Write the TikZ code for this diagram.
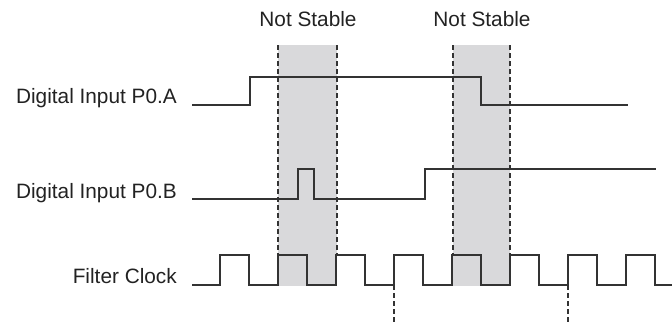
\documentclass[tikz,border=0pt]{standalone}
\usepackage{fontspec}
\setmainfont{Liberation Sans}
\definecolor{bandgray}{HTML}{D9D9DB}
\definecolor{wave}{HTML}{333333}
\definecolor{txt}{HTML}{222222}
\begin{document}
\begin{tikzpicture}[x=1pt,y=-1pt,
  lbl/.style={anchor=base east,inner sep=0pt,text=txt,font=\fontsize{20.8}{24}\selectfont},
  ttl/.style={anchor=base,inner sep=0pt,text=txt,font=\fontsize{20.8}{24}\selectfont},
  sig/.style={draw=wave,line width=1.3pt,line join=miter},
  band/.style={fill=bandgray,draw=none},
  guide/.style={draw=wave,line width=1.4pt,dash pattern=on 5pt off 3pt}]
\useasboundingbox (0,0) rectangle (672,324);
% shaded regions
\path[band] (278,45) rectangle (337,286);
\path[band] (453,45) rectangle (510,286);
% titles
\node[ttl] (ns1) at (308,27) {Not Stable};
\node[ttl] (ns2) at (482,27) {Not Stable};
% labels
\node[lbl] (la) at (177,103) {Digital Input P0.A};
\node[lbl] (lb) at (177,198) {Digital Input P0.B};
\node[lbl] (lc) at (177,283) {Filter Clock};
% dashed guides
\draw[guide] (278,45) -- (278,255);
\draw[guide] (337,45) -- (337,255);
\draw[guide] (453,45) -- (453,255);
\draw[guide] (510,45) -- (510,255);
\draw[guide] (394,285) -- (394,324);
\draw[guide] (568,285) -- (568,324);
% signal A
\draw[sig] (192,105) -- (250,105) -- (250,77) -- (481,77) -- (481,105) -- (628,105);
% signal B
\draw[sig] (192,199) -- (298,199) -- (298,169) -- (314,169) -- (314,199) -- (425,199) -- (425,169) -- (656,169);
% filter clock
\draw[sig] (192,285) -- (220,285)
  foreach \k in {0,...,7} {
    -- ({220+58*\k},255) -- ({249+58*\k},255) -- ({249+58*\k},285) -- ({278+58*\k},285)
  } -- (672,285);
\end{tikzpicture}
\end{document}
